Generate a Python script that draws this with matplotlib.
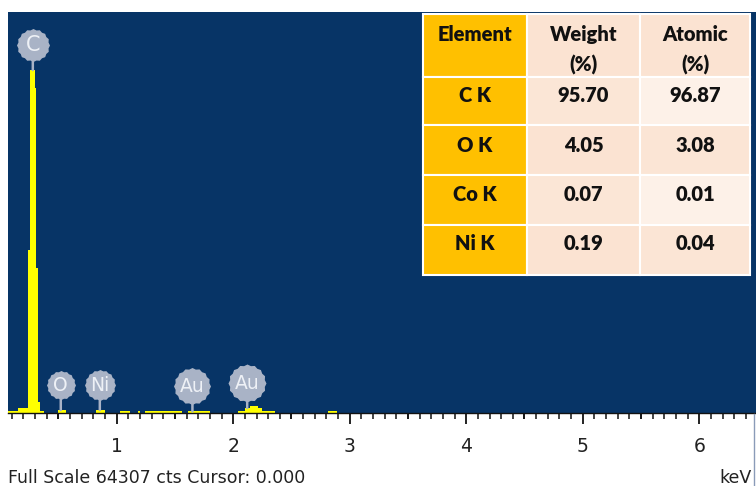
import numpy as np
import matplotlib
matplotlib.use("Agg")
import matplotlib.pyplot as plt
from matplotlib.path import Path
from matplotlib.patches import Rectangle
from matplotlib.ticker import MultipleLocator, FixedLocator
from matplotlib.transforms import offset_copy, blended_transform_factory

# ---- spectrum: energy bands (keV) and counts in each band ----
band_lo = [0.067, 0.153, 0.237, 0.260, 0.299, 0.307, 0.325, 0.342,
           0.496, 0.822, 1.029, 1.183, 1.243, 1.612,
           2.041, 2.101, 2.144, 2.213, 2.247, 2.814]
band_hi = [0.153, 0.237, 0.260, 0.299, 0.307, 0.325, 0.342, 0.376,
           0.565, 0.900, 1.114, 1.200, 1.561, 1.801,
           2.101, 2.144, 2.213, 2.247, 2.359, 2.891]
band_counts = [260, 800, 26150, 55000, 52100, 23250, 1760, 260,
               480, 480, 260, 260, 260, 260,
               260, 800, 1100, 800, 260, 260]
full_scale = 64307
cursor = 0.000

# ---- identified lines ----
peak_names = ["C", "O", "Ni", "Au", "Au"]
peak_kev = [0.28, 0.52, 0.855, 1.65, 2.12]

# ---- quantification table ----
table_headers = ["Element", "Weight\n(%)", "Atomic\n(%)"]
elements = ["C K", "O K", "Co K", "Ni K"]
weight_pct = [95.70, 4.05, 0.07, 0.19]
atomic_pct = [96.87, 3.08, 0.01, 0.04]

tick_values = [1, 2, 3, 4, 5, 6]

# ---- figure geometry (pixels) ----
W, H = 756, 486
fig = plt.figure(figsize=(W / 100, H / 100), dpi=100, facecolor="white")

ax_left, ax_right, ax_top, ax_bottom = 8, 756, 12, 413
ax = fig.add_axes([ax_left / W, 1 - ax_bottom / H,
                   (ax_right - ax_left) / W, (ax_bottom - ax_top) / H])
ax.set_facecolor("#073466")
ax.set_xlim(0.067, 6.487)
ax.set_ylim(0, full_scale)
for side in ("top", "left", "right"):
    ax.spines[side].set_visible(False)
ax.spines["bottom"].set_color("#111111")
ax.spines["bottom"].set_linewidth(1.0)
ax.set_yticks([])

# spectrum bars
lo = np.array(band_lo)
hi = np.array(band_hi)
ax.bar(lo, band_counts, width=hi - lo, align="edge",
       color="#ffff00", linewidth=0, zorder=2)

# x ticks: long at whole keV, medium at half keV, short every 0.1 keV
ax.xaxis.set_major_locator(FixedLocator(tick_values))
ax.xaxis.set_minor_locator(MultipleLocator(0.1))
ax.set_xticklabels([str(v) for v in tick_values])
ax.tick_params(axis="x", which="major", direction="out", length=8.0,
               width=1.3, color="#111111", pad=9, labelsize=13.5,
               labelcolor="#222222")
ax.tick_params(axis="x", which="minor", direction="out", length=4.0,
               width=1.1, color="#111111")
half = np.arange(0.5, 6.5, 1.0)
trans_xa = blended_transform_factory(ax.transData, ax.transAxes)
ax.vlines(half, -0.0155, 0, transform=trans_xa, color="#111111",
          linewidth=1.2, clip_on=False)

# gear-edged label badge
n = 32
ang = np.linspace(0, 2 * np.pi, n, endpoint=False)
rad = np.where(np.arange(n) % 2 == 0, 1.0, 0.93)
verts = np.column_stack([rad * np.cos(ang), rad * np.sin(ang)])
verts = np.vstack([verts, verts[:1]])
codes = [Path.MOVETO] + [Path.LINETO] * (n - 1) + [Path.CLOSEPOLY]
badge = Path(verts, codes)

badge_px = [33, 29, 31, 37, 38]
badge_col = "#a9b3c6"
lift_pt = 25 * 0.72


def counts_at(e):
    for a, b, c in zip(band_lo, band_hi, band_counts):
        if a <= e < b:
            return c
    return 0


for name, e, size in zip(peak_names, peak_kev, badge_px):
    top = counts_at(e)
    tr = offset_copy(ax.transData, fig=fig, y=lift_pt, units="points")
    ax.annotate("", xy=(e, top), xytext=(e, top), textcoords=tr,
                arrowprops=dict(arrowstyle="-", color=badge_col, lw=1.8,
                                shrinkA=0, shrinkB=0), zorder=3)
    ax.plot([e], [top], marker=badge, markersize=size * 0.72,
            color=badge_col, markeredgewidth=0, transform=tr, zorder=4,
            clip_on=False)
    ax.text(e, top, name, transform=tr, ha="center", va="center",
            color="#eef1f6", fontsize=13.5 if name != "C" else 15,
            zorder=5)

# ---- overlay in pixel coordinates for table and footer ----
ov = fig.add_axes([0, 0, 1, 1], facecolor="none")
ov.set_xlim(0, W)
ov.set_ylim(H, 0)
ov.axis("off")

col_edges = [423, 527, 640, 750]
row_edges = [14, 77, 125, 175, 225, 275]
gold = "#ffc000"
peach = "#fbe3d2"
cream = "#fdf1e8"
cell_fill = [
    [gold, peach, peach],
    [gold, "#fbe6d6", cream],
    [gold, peach, "#fbe5d5"],
    [gold, "#fbe6d6", cream],
    [gold, peach, "#fbe5d5"],
]
font_tab = dict(family=["Lato", "DejaVu Sans"], fontweight="heavy",
                fontsize=14.5, color="#111111", ha="center")

rows = [table_headers] + [
    [el, f"{w:.2f}", f"{a:.2f}"]
    for el, w, a in zip(elements, weight_pct, atomic_pct)
]
row_baseline = [41, 102, 152, 201, 250]
for r, row in enumerate(rows):
    for c, txt in enumerate(row):
        x0, x1 = col_edges[c], col_edges[c + 1]
        y0, y1 = row_edges[r], row_edges[r + 1]
        ov.add_patch(Rectangle((x0, y0), x1 - x0, y1 - y0,
                               facecolor=cell_fill[r][c],
                               edgecolor="white", linewidth=1.5))
        xc = (x0 + x1) / 2
        lines = txt.split("\n")
        ov.text(xc, row_baseline[r], lines[0], va="baseline", **font_tab)
        if len(lines) > 1:
            ov.text(xc, 72, lines[1], va="baseline", **font_tab)

# footer text
ov.text(8, 482.5, f"Full Scale {full_scale} cts Cursor: {cursor:.3f}",
        va="baseline", ha="left", fontsize=12.5, color="#222222")
ov.text(752, 482.5, "keV", va="baseline", ha="right", fontsize=12.5,
        color="#222222")
ov.plot([754, 754], [414, 486], color="#8a9bb8", linewidth=1.0)

fig.savefig("out.png", dpi=100, facecolor="white")
